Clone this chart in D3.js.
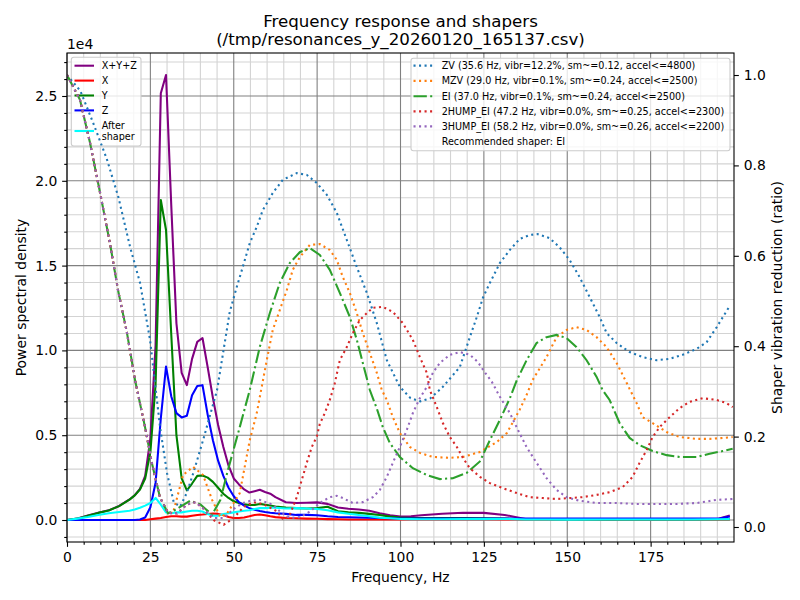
<!DOCTYPE html>
<html>
<head>
<meta charset="utf-8">
<script src="https://cdn.jsdelivr.net/npm/d3@7"></script>
<style>
	body { margin: 0; background: #fff; }
	text { font-family: "DejaVu Sans", sans-serif; fill: #000; }
</style>
</head>
<body>
<svg id="chart" width="800" height="600"></svg>
<script>
// frequency bins (Hz) used for the PSD traces
const psdFreqs = [0, 3.13, 6.25, 9.38, 12.5, 15.63, 18.75, 20.31, 21.88, 23.44, 25,
	26.56, 28.13, 29.69, 31.25, 32.81, 34.38, 35.94, 37.5, 39.06, 40.63,
	42.19, 43.75, 45.31, 46.88, 48.44, 50, 51.56, 53.13, 54.69, 56.25,
	57.81, 59.38, 60.94, 62.5, 65.63, 68.75, 71.88, 75, 78.13, 81.25,
	84.38, 87.5, 90.63, 93.75, 96.88, 100, 103.13, 106.25, 112.5, 118.75,
	125, 131.25, 134.38, 137.5, 143.75, 150, 162.5, 175, 187.5, 195.31, 198.44];

const psdSum = [0, 90, 260, 430, 570, 830, 1210, 1460, 1840, 2600, 4800,
	10300, 25160, 26240, 18600, 11600, 8670, 7950, 9500, 10500, 10730,
	9000, 7200, 5600, 4300, 3200, 2450, 2100, 1800, 1620, 1700,
	1780, 1650, 1550, 1350, 1050, 1000, 1020, 1040, 950, 740,
	660, 620, 550, 400, 280, 200, 220, 280, 370, 430,
	420, 300, 180, 60, 60, 50, 50, 50, 50, 70, 250];

const psdX = [0, 0, 0, 0, 0, 0, 0, 5, 5, 5, 40,
	80, 120, 180, 220, 220, 200, 200, 250, 300, 320,
	350, 380, 360, 300, 180, 120, 120, 150, 220, 300,
	320, 280, 220, 170, 120, 100, 80, 70, 50, 40,
	30, 30, 30, 30, 30, 30, 30, 30, 30, 30,
	30, 30, 30, 30, 30, 30, 30, 30, 30, 30, 30];

const psdY = [0, 80, 250, 420, 560, 820, 1200, 1450, 1800, 2450, 4000,
	8000, 18870, 17100, 11000, 5000, 2450, 1750, 2150, 2600, 2620,
	2500, 2250, 1900, 1550, 1300, 1100, 1000, 920, 880, 880,
	950, 900, 850, 800, 740, 700, 680, 700, 780, 520,
	450, 420, 360, 300, 200, 140, 120, 120, 120, 120,
	100, 80, 60, 40, 40, 30, 30, 30, 30, 40, 50];

const psdZ = [0, 0, 0, 0, 0, 0, 0, 0, 30, 150, 750,
	2200, 6000, 9050, 7300, 6300, 6050, 6150, 7350, 7900, 7950,
	6200, 4700, 3500, 2600, 1900, 1400, 1050, 850, 700, 600,
	530, 470, 430, 400, 360, 300, 300, 280, 220, 180,
	160, 150, 130, 120, 100, 90, 80, 80, 80, 80,
	80, 80, 80, 80, 80, 80, 80, 80, 80, 80, 200];

const psdAfterShaper = [0, 80, 180, 300, 400, 470, 550, 620, 720, 850, 1000,
	1300, 900, 450, 400, 450, 450, 500, 550, 550, 500,
	350, 250, 250, 350, 400, 450, 500, 550, 580, 650,
	700, 700, 720, 720, 680, 700, 680, 650, 580, 450,
	370, 300, 220, 140, 100, 60, 50, 40, 40, 50,
	50, 60, 50, 30, 30, 20, 30, 30, 30, 40, 50];

// shaper response curves, [frequency Hz, ratio]
const zvCurve = [[0, 1], [4, 0.965], [7.9, 0.893], [11.9, 0.815], [15.4, 0.73], [18.9, 0.62],
	[21.9, 0.54], [24.9, 0.414], [27.9, 0.221], [30, 0.119], [32, 0.055], [33.9, 0.045],
	[35.9, 0.075], [37.9, 0.12], [40.8, 0.192], [45, 0.303], [48.8, 0.476], [50.9, 0.531],
	[52.7, 0.575], [54.8, 0.628], [56.9, 0.664], [58.7, 0.701], [61.7, 0.739], [64.7, 0.768],
	[68.9, 0.783], [71.9, 0.779], [74.9, 0.761], [77.9, 0.735], [80.9, 0.695], [83.9, 0.635],
	[86.9, 0.575], [89.9, 0.518], [92.9, 0.451], [95.9, 0.369], [99.8, 0.31], [103, 0.285],
	[106, 0.278], [109, 0.285], [112.7, 0.31], [117.8, 0.354], [120.8, 0.42], [122.9, 0.465],
	[124.7, 0.507], [126.8, 0.54], [129.8, 0.584], [132.8, 0.613], [135.7, 0.637], [138.7, 0.646],
	[141.1, 0.648], [144.7, 0.639], [147.7, 0.619], [150.7, 0.591], [153.7, 0.553], [156.7, 0.509],
	[159.7, 0.465], [161.8, 0.429], [164.8, 0.407], [168.7, 0.387], [172.6, 0.376], [176.8, 0.369],
	[180.7, 0.372], [184.6, 0.381], [188.8, 0.394], [191.8, 0.409], [194.8, 0.442], [198.7, 0.489]];

const mzvCurve = [[0, 1], [3.9, 0.945], [6.9, 0.85], [9.9, 0.74], [12.9, 0.627], [15.3, 0.524],
	[18, 0.429], [20.4, 0.325], [23.4, 0.221], [25.5, 0.14], [27.9, 0.065], [30.3, 0.033],
	[31.8, 0.031], [34.8, 0.115], [37.8, 0.133], [40.8, 0.115], [43.5, 0.06], [46, 0.022],
	[48, 0.03], [51.8, 0.075], [54.8, 0.192], [56.9, 0.252], [59.9, 0.369], [61.7, 0.436],
	[63.8, 0.48], [65.9, 0.524], [67.7, 0.569], [69.8, 0.597], [72.8, 0.624], [75.8, 0.626],
	[78.8, 0.613], [80.9, 0.591], [82.7, 0.553], [84.8, 0.518], [86.9, 0.473], [88.7, 0.429],
	[90.8, 0.385], [92.9, 0.341], [94.4, 0.303], [95.9, 0.281], [97.7, 0.243], [99.8, 0.208],
	[102.8, 0.177], [105.8, 0.164], [109.7, 0.155], [114.8, 0.153], [118.7, 0.155], [123.8, 0.166],
	[128.9, 0.188], [131.9, 0.208], [133.7, 0.232], [135.7, 0.259], [137.8, 0.292], [139.6, 0.325],
	[143.8, 0.376], [146.8, 0.42], [149.8, 0.436], [152.8, 0.442], [155.8, 0.436], [158.8, 0.42],
	[161.8, 0.398], [164.8, 0.363], [167.8, 0.319], [170.8, 0.274], [172.6, 0.243], [175.6, 0.23],
	[179.8, 0.21], [183.7, 0.199], [188.8, 0.195], [192.7, 0.195], [196.6, 0.197], [199.6, 0.199]];

const eiCurve = [[0, 1], [3.9, 0.945], [6.9, 0.85], [9.9, 0.74], [12.9, 0.627], [15.3, 0.524],
	[18, 0.429], [20.4, 0.325], [23.4, 0.221], [25.5, 0.14], [27.9, 0.065], [30.3, 0.03],
	[33, 0.04], [36.9, 0.058], [40, 0.05], [43.5, 0.027], [46, 0.06], [48, 0.119],
	[51.8, 0.221], [54.8, 0.303], [57.8, 0.398], [60.8, 0.473], [63.8, 0.54], [66.8, 0.584],
	[69.8, 0.608], [72.8, 0.617], [75.8, 0.602], [78.8, 0.569], [81.8, 0.518], [84.8, 0.465],
	[86.9, 0.414], [88.7, 0.363], [90.8, 0.303], [92.9, 0.262], [94.7, 0.221], [96.8, 0.186],
	[99.8, 0.155], [103.7, 0.13], [107.9, 0.115], [111.8, 0.106], [115.7, 0.108], [119.9, 0.12],
	[123.8, 0.145], [126.8, 0.192], [129.8, 0.237], [132.8, 0.285], [134.9, 0.325], [137.8, 0.369],
	[140.8, 0.407], [143.8, 0.42], [146.8, 0.425], [149.8, 0.418], [152.8, 0.398], [155.8, 0.369],
	[158.8, 0.332], [160.6, 0.303], [162.7, 0.281], [165.7, 0.23], [168.7, 0.197], [171.7, 0.181],
	[175.6, 0.168], [179.8, 0.159], [183.7, 0.155], [188.8, 0.155], [192.7, 0.162], [196.6, 0.168],
	[199.6, 0.173]];

const hump2Curve = [[0, 1], [3.9, 0.945], [6.9, 0.85], [9.9, 0.74], [12.9, 0.627], [15.3, 0.524],
	[18, 0.429], [20.4, 0.325], [23.4, 0.221], [25.5, 0.14], [27.9, 0.065], [30.3, 0.031],
	[33, 0.03], [36, 0.05], [38.5, 0.055], [41, 0.04], [44, 0.015], [47, 0.005],
	[50, 0.02], [53, 0.045], [56, 0.055], [59, 0.05], [62.9, 0.035], [65, 0.015],
	[67, 0.03], [68.9, 0.066], [70.4, 0.104], [71.9, 0.142], [73.4, 0.177], [74.9, 0.2],
	[75.8, 0.228], [77.3, 0.252], [78.8, 0.281], [80.3, 0.318], [81.8, 0.369], [83.9, 0.398],
	[85.7, 0.429], [87.8, 0.458], [89.9, 0.473], [91.7, 0.485], [94.7, 0.487], [97.7, 0.476],
	[100.7, 0.451], [103.7, 0.414], [105.8, 0.376], [107.9, 0.341], [108.8, 0.303], [110.9, 0.265],
	[112.7, 0.23], [114.8, 0.199], [116.9, 0.177], [118.7, 0.153], [120.8, 0.13], [123.8, 0.111],
	[126.8, 0.097], [130.7, 0.086], [134.9, 0.075], [138.7, 0.066], [142.6, 0.064], [146.8, 0.062],
	[150.7, 0.064], [154.6, 0.066], [158.8, 0.071], [162.7, 0.077], [166.6, 0.088], [169.6, 0.111],
	[171.7, 0.142], [173.8, 0.17], [175.6, 0.199], [177.7, 0.221], [180.7, 0.243], [183.7, 0.263],
	[186.7, 0.277], [190.6, 0.285], [194.8, 0.281], [197.8, 0.274], [199.6, 0.265]];

const hump3Curve = [[0, 1], [3.9, 0.945], [6.9, 0.85], [9.9, 0.74], [12.9, 0.627], [15.3, 0.524],
	[18, 0.429], [20.4, 0.325], [23.4, 0.221], [25.5, 0.14], [27.9, 0.065], [30.3, 0.031],
	[33, 0.03], [36, 0.05], [38.5, 0.055], [41, 0.04], [44, 0.02], [47, 0.02],
	[50, 0.04], [52.7, 0.053], [55, 0.058], [57.8, 0.06], [61.7, 0.049], [64.5, 0.03],
	[67, 0.02], [70, 0.022], [73, 0.035], [75.8, 0.053], [78.8, 0.066], [80.9, 0.069],
	[82.7, 0.064], [85.7, 0.053], [88.7, 0.055], [91.7, 0.066], [93.8, 0.082], [95.9, 0.111],
	[97.7, 0.142], [99.8, 0.177], [101.9, 0.215], [103.7, 0.252], [105.8, 0.285], [107.9, 0.31],
	[109.7, 0.341], [111.8, 0.363], [114.8, 0.381], [117.8, 0.387], [120.8, 0.381], [123.2, 0.365],
	[125, 0.345], [127.4, 0.321], [129.8, 0.288], [132.8, 0.252], [135.2, 0.215], [137.8, 0.177],
	[140.8, 0.142], [143.8, 0.108], [146.8, 0.082], [149.8, 0.066], [153.7, 0.058], [158.8, 0.053],
	[164.8, 0.053], [170.8, 0.051], [176.8, 0.051], [182.8, 0.051], [188.8, 0.053], [194.8, 0.06],
	[199.6, 0.062]];

const psdLabels = ["X+Y+Z", "X", "Y", "Z", "After\nshaper"];
const shaperLabels = [
	"ZV (35.6 Hz, vibr=12.2%, sm~=0.12, accel<=4800)",
	"MZV (29.0 Hz, vibr=0.1%, sm~=0.24, accel<=2500)",
	"EI (37.0 Hz, vibr=0.1%, sm~=0.24, accel<=2500)",
	"2HUMP_EI (47.2 Hz, vibr=0.0%, sm~=0.25, accel<=2300)",
	"3HUMP_EI (58.2 Hz, vibr=0.0%, sm~=0.26, accel<=2200)"
];
const recommendedLabel = "Recommended shaper: EI";
const titleLines = ["Frequency response and shapers", "(/tmp/resonances_y_20260120_165137.csv)"];

const xTicks = [0, 25, 50, 75, 100, 125, 150, 175];
const psdTicks = [0, 5000, 10000, 15000, 20000, 25000];
const ratioTicks = [0, 0.2, 0.4, 0.6, 0.8, 1.0];

(function() {
	const left = 67, right = 734, top = 53, bottom = 542;
	const lw = 2.08;
	const dotted = "2.08,3.44";
	const dashdot = "13.33,3.33,2.08,3.33";
	const psdColors = ["purple", "red", "green", "blue", "cyan"];
	const shaperColors = ["#1f77b4", "#ff7f0e", "#2ca02c", "#d62728", "#9467bd"];
	const shaperDashes = [dotted, dotted, dashdot, dotted, dotted];

	let svg = d3.select("#chart");
	svg.append("rect").attr("width", 800).attr("height", 600).attr("fill", "white");

	let x = d3.scaleLinear().domain([0, 200]).range([left, right]);
	let y = d3.scaleLinear().domain([-1297, 27535]).range([bottom, top]);
	let y2 = d3.scaleLinear().domain([-0.0332, 1.0487]).range([bottom, top]);

	let xMinor = d3.range(5, 200, 5).filter(d => d % 25 != 0);
	let yMinor = d3.range(-1000, 28000, 1000).filter(d => d % 5000 != 0);

	svg.append("clipPath").attr("id", "plot-clip")
		.append("rect")
		.attr("x", left).attr("y", top)
		.attr("width", right - left).attr("height", bottom - top);

	// grid, minor first then major
	let grid = svg.append("g");
	drawGrid(grid, xMinor, yMinor, "lightgrey");
	drawGrid(grid, xTicks, psdTicks, "grey");

	function drawGrid(g, xs, ys, color) {
		g.selectAll(null).data(xs).enter().append("line")
			.attr("x1", d => x(d)).attr("x2", d => x(d))
			.attr("y1", top).attr("y2", bottom)
			.attr("stroke", color).attr("stroke-width", 1.1);
		g.selectAll(null).data(ys).enter().append("line")
			.attr("x1", left).attr("x2", right)
			.attr("y1", d => y(d)).attr("y2", d => y(d))
			.attr("stroke", color).attr("stroke-width", 1.1);
	}

	// PSD traces
	let psdLine = d3.line().x(d => x(d[0])).y(d => y(d[1]));
	let psdSeries = [psdSum, psdX, psdY, psdZ, psdAfterShaper];
	let psdLayer = svg.append("g").attr("clip-path", "url(#plot-clip)");
	psdSeries.forEach(function(vals, i) {
		psdLayer.append("path")
			.datum(psdFreqs.map((f, j) => [f, vals[j]]))
			.attr("d", psdLine)
			.attr("fill", "none")
			.attr("stroke", psdColors[i])
			.attr("stroke-width", lw)
			.attr("stroke-linejoin", "round")
			.attr("stroke-linecap", "square");
	});

	// left legend (sits under the shaper curves)
	let leg = svg.append("g").style("font-size", "9.64px");
	leg.append("rect")
		.attr("x", 71.3).attr("y", 57.3).attr("width", 69.7).attr("height", 88.7)
		.attr("rx", 2.5)
		.attr("fill", "white").attr("fill-opacity", 0.8)
		.attr("stroke", "#cccccc").attr("stroke-width", 1.1);
	let legRows = [65.7, 80.6, 95.5, 110.4, 131];
	psdLabels.forEach(function(label, i) {
		leg.append("line")
			.attr("x1", 74.5).attr("x2", 94)
			.attr("y1", legRows[i]).attr("y2", legRows[i])
			.attr("stroke", psdColors[i]).attr("stroke-width", lw);
		let parts = label.split("\n");
		let t = leg.append("text").attr("x", 101.7);
		parts.forEach(function(p, k) {
			t.append("tspan")
				.attr("x", 101.7)
				.attr("y", legRows[i] + 3.5 + (k - (parts.length - 1) / 2) * 11)
				.text(p);
		});
	});

	// shaper curves on the ratio axis
	let shaperLine = d3.line().x(d => x(d[0])).y(d => y2(d[1]));
	let shaperSeries = [zvCurve, mzvCurve, eiCurve, hump2Curve, hump3Curve];
	let shaperLayer = svg.append("g").attr("clip-path", "url(#plot-clip)");
	shaperSeries.forEach(function(vals, i) {
		shaperLayer.append("path")
			.datum(vals)
			.attr("d", shaperLine)
			.attr("fill", "none")
			.attr("stroke", shaperColors[i])
			.attr("stroke-width", lw)
			.attr("stroke-dasharray", shaperDashes[i])
			.attr("stroke-linecap", "butt");
	});

	// axes
	let axisFont = "13.9px";
	svg.append("g")
		.attr("transform", "translate(0," + bottom + ")")
		.call(d3.axisBottom(x).tickValues(xTicks).tickSize(4.86).tickPadding(4.86)
			.tickFormat(d3.format("d")));
	svg.append("g")
		.attr("transform", "translate(0," + bottom + ")")
		.call(d3.axisBottom(x).tickValues(xMinor).tickSize(2.78).tickFormat(""));

	svg.append("g")
		.attr("transform", "translate(" + left + ",0)")
		.call(d3.axisLeft(y).tickValues(psdTicks).tickSize(4.86).tickPadding(4.86)
			.tickFormat(d => (d / 1e4).toFixed(1)));
	svg.append("g")
		.attr("transform", "translate(" + left + ",0)")
		.call(d3.axisLeft(y).tickValues(yMinor).tickSize(2.78).tickFormat(""));

	svg.append("g")
		.attr("transform", "translate(" + right + ",0)")
		.call(d3.axisRight(y2).tickValues(ratioTicks).tickSize(4.86).tickPadding(4.86)
			.tickFormat(d3.format(".1f")));

	svg.selectAll(".domain").remove();
	svg.selectAll(".tick line").attr("stroke", "black").attr("stroke-width", 1.1);
	svg.selectAll(".tick text")
		.style("font-size", axisFont)
		.style("font-family", "DejaVu Sans");

	// frame
	svg.append("rect")
		.attr("x", left).attr("y", top)
		.attr("width", right - left).attr("height", bottom - top)
		.attr("fill", "none").attr("stroke", "black").attr("stroke-width", 1.1);

	// right legend
	let leg2 = svg.append("g").style("font-size", "9.64px");
	leg2.append("rect")
		.attr("x", 411).attr("y", 58.3).attr("width", 319).attr("height", 92.4)
		.attr("rx", 2.5)
		.attr("fill", "white").attr("fill-opacity", 0.8)
		.attr("stroke", "#cccccc").attr("stroke-width", 1.1);
	let leg2Rows = [65.6, 80.9, 96.2, 111.4, 126.4, 141.2];
	shaperLabels.forEach(function(label, i) {
		leg2.append("line")
			.attr("x1", 413.5).attr("x2", 433)
			.attr("y1", leg2Rows[i]).attr("y2", leg2Rows[i])
			.attr("stroke", shaperColors[i]).attr("stroke-width", lw)
			.attr("stroke-dasharray", shaperDashes[i]);
		leg2.append("text")
			.attr("x", 441.7).attr("y", leg2Rows[i] + 3.5)
			.text(label);
	});
	leg2.append("text")
		.attr("x", 441.7).attr("y", leg2Rows[5] + 3.5)
		.text(recommendedLabel);

	// titles and labels
	titleLines.forEach(function(line, i) {
		svg.append("text")
			.attr("x", (left + right) / 2)
			.attr("y", 27 + i * 18.2)
			.attr("text-anchor", "middle")
			.style("font-size", "16.67px")
			.text(line);
	});

	svg.append("text")
		.attr("x", left)
		.attr("y", 49)
		.style("font-size", axisFont)
		.text("1e4");

	svg.append("text")
		.attr("x", (left + right) / 2)
		.attr("y", 582)
		.attr("text-anchor", "middle")
		.style("font-size", axisFont)
		.text("Frequency, Hz");

	svg.append("text")
		.attr("transform", "translate(26," + (top + bottom) / 2 + ") rotate(-90)")
		.attr("text-anchor", "middle")
		.style("font-size", axisFont)
		.text("Power spectral density");

	svg.append("text")
		.attr("transform", "translate(782," + (top + bottom) / 2 + ") rotate(-90)")
		.attr("text-anchor", "middle")
		.style("font-size", axisFont)
		.text("Shaper vibration reduction (ratio)");
})();
</script>
</body>
</html>
